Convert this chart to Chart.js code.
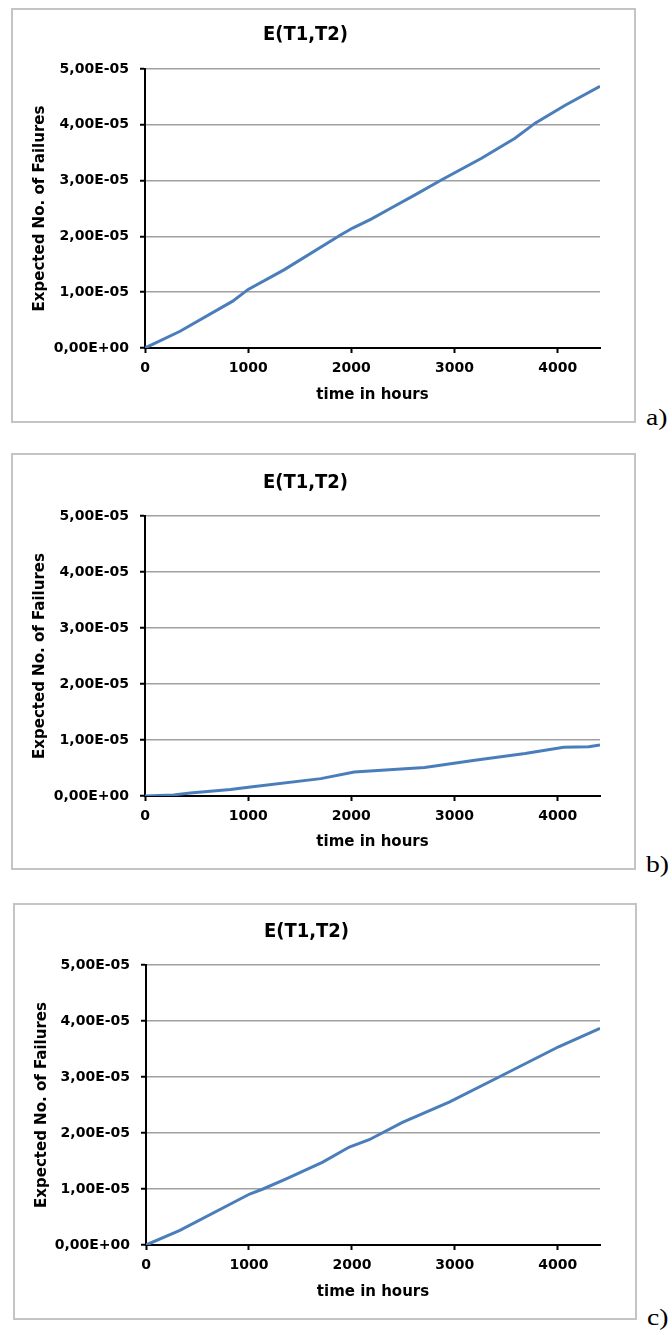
<!DOCTYPE html>
<html>
<head>
<meta charset="utf-8">
<script src="https://cdn.jsdelivr.net/npm/chart.js@4.4.1/dist/chart.umd.min.js"></script>
<style>
  body { margin: 0; background: #fff; width: 672px; height: 1335px; position: relative; overflow: hidden; }
  .box { position: absolute; border: 2px solid #c4c4c4; box-sizing: border-box; }
  canvas { position: absolute; }
  .tag { position: absolute; font-family: "Liberation Serif", "Times New Roman", serif; font-size: 24px;
         color: #000; transform: scaleX(1.15); transform-origin: left center; line-height: 24px; }
</style>
</head>
<body>
<div class="box" style="left:11px;top:8px;width:625px;height:415px"></div>
<div class="box" style="left:11px;top:453px;width:625px;height:417px"></div>
<div class="box" style="left:13px;top:903px;width:624px;height:417px"></div>
<canvas id="chartA" width="625" height="415" style="left:11px;top:8px"></canvas>
<canvas id="chartB" width="625" height="417" style="left:11px;top:453px"></canvas>
<canvas id="chartC" width="624" height="417" style="left:13px;top:903px"></canvas>
<div class="tag" style="left:646px;top:405px">a)</div>
<div class="tag" style="left:646px;top:852px">b)</div>
<div class="tag" style="left:647px;top:1305px">c)</div>

<script>
// values (time in hours -> expected no. of failures)
const hoursA = [0, 340, 850, 1000, 1347, 1899, 2013, 2192, 2386, 2613, 2872, 3262, 3586, 3781, 4073, 4410];
const failuresA = [0, 3.0e-6, 8.4e-6, 1.05e-5, 1.40e-5, 2.03e-5, 2.15e-5, 2.31e-5, 2.51e-5, 2.74e-5, 3.01e-5, 3.40e-5, 3.76e-5, 4.03e-5, 4.35e-5, 4.69e-5];

const hoursB = [0, 276, 438, 828, 1022, 1704, 2028, 2710, 3197, 3684, 4057, 4300, 4410];
const failuresB = [0, 2e-7, 5.5e-7, 1.15e-6, 1.6e-6, 3.1e-6, 4.3e-6, 5.1e-6, 6.4e-6, 7.6e-6, 8.7e-6, 8.8e-6, 9.1e-6];

const hoursC = [0, 329, 1007, 1136, 1362, 1717, 1975, 2168, 2491, 2945, 3429, 4008, 4410];
const failuresC = [0, 2.6e-6, 9.1e-6, 1.0e-5, 1.18e-5, 1.48e-5, 1.75e-5, 1.88e-5, 2.19e-5, 2.55e-5, 3.0e-5, 3.54e-5, 3.87e-5];

const xTickValues = [0, 1000, 2000, 3000, 4000];
const titleText = "E(T1,T2)";
const xTitle = "time in hours";
const yTitle = "Expected No. of Failures";
const xMax = 4410;
const yMax = 5e-5;

const BLUE = "#4a7ebb";
const TICK_FONT = { family: "'DejaVu Sans', sans-serif", size: 14, weight: "bold" };
const AXIS_FONT = { family: "'DejaVu Sans', sans-serif", size: 15, weight: "bold" };

// 5e-5 -> "5,00E-05"
function sciLabel(v) {
    if (Math.abs(v) < 1e-12) return "0,00E+00";
    const parts = v.toExponential(2).split("e");
    const exp = parseInt(parts[1], 10);
    return parts[0].replace(".", ",") + "E" + (exp < 0 ? "-" : "+") + String(Math.abs(exp)).padStart(2, "0");
}

function makeChart(id, hours, failures, box) {
    const ctx = document.getElementById(id).getContext("2d");
    return new Chart(ctx, {
        type: "line",
        data: {
            datasets: [{
                data: hours.map((h, i) => ({ x: h, y: failures[i] })),
                borderColor: BLUE,
                borderWidth: 3,
                pointRadius: 0,
                tension: 0,
                fill: false
            }]
        },
        options: {
            responsive: false,
            animation: false,
            layout: { padding: { left: 0, right: box.right, top: 0, bottom: 0 } },
            plugins: {
                legend: { display: false },
                tooltip: { enabled: false },
                title: {
                    display: true,
                    text: titleText,
                    color: "#000",
                    font: { family: "'DejaVu Sans Condensed', 'Liberation Sans Narrow', 'DejaVu Sans', sans-serif", size: 20, weight: "bold", lineHeight: 1.2 },
                    padding: { top: box.titleTop, bottom: box.top - 24 - box.titleTop }
                }
            },
            scales: {
                x: {
                    type: "linear",
                    min: 0,
                    max: xMax,
                    afterBuildTicks: s => { s.ticks = xTickValues.map(v => ({ value: v })); },
                    afterFit: s => { s.height = box.bottom; },
                    border: { color: "#000", width: 2 },
                    grid: { drawOnChartArea: false, drawTicks: true, tickLength: 5, tickColor: "#000", tickWidth: 2 },
                    ticks: {
                        maxRotation: 0,
                        autoSkip: false,
                        padding: 7,
                        color: "#000",
                        font: TICK_FONT,
                        callback: v => String(v)
                    },
                    title: { display: true, text: xTitle, color: "#000", font: AXIS_FONT, padding: { top: 0, bottom: 19 } }
                },
                y: {
                    min: 0,
                    max: yMax,
                    afterFit: s => { s.width = box.left; },
                    border: { color: "#000", width: 2 },
                    grid: {
                        color: c => (c.tick && c.tick.value === 0 ? "rgba(0,0,0,0)" : "#a0a0a0"),
                        lineWidth: 1.5,
                        tickLength: 5,
                        tickColor: "#000",
                        tickWidth: 2
                    },
                    ticks: {
                        stepSize: 1e-5,
                        padding: 11,
                        color: "#000",
                        font: TICK_FONT,
                        callback: v => sciLabel(v)
                    },
                    title: { display: true, text: yTitle, color: "#000", font: AXIS_FONT, padding: { top: 20, bottom: 0 } }
                }
            }
        }
    });
}

makeChart("chartA", hoursA, failuresA, { left: 134, right: 36, top: 61, bottom: 75, titleTop: 15 });
makeChart("chartB", hoursB, failuresB, { left: 134, right: 36, top: 63, bottom: 74, titleTop: 18 });
makeChart("chartC", hoursC, failuresC, { left: 133, right: 37, top: 62, bottom: 75, titleTop: 17 });
</script>
</body>
</html>
